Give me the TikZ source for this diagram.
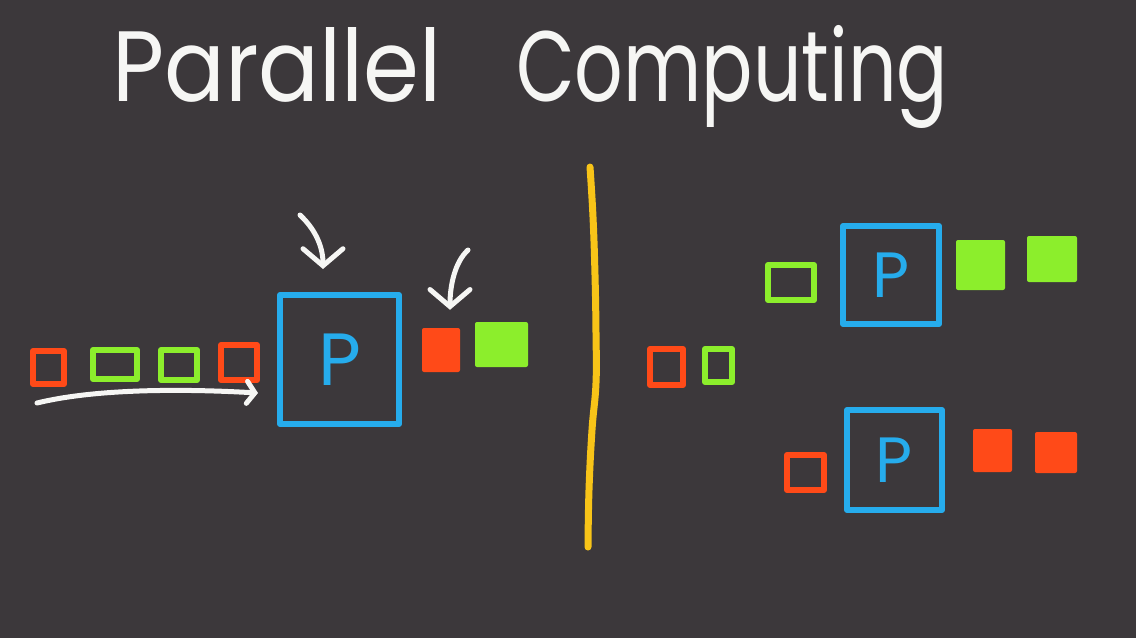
\documentclass[tikz,border=0pt]{standalone}
\usepackage{fontspec}
\usepackage{graphicx}
\setmainfont{Poppins}
\usetikzlibrary{arrows.meta}
\definecolor{bg}{RGB}{60,56,59}
\definecolor{cred}{RGB}{255,74,24}
\definecolor{cgreen}{RGB}{140,238,44}
\definecolor{cblue}{RGB}{38,172,236}
\definecolor{cyel}{RGB}{248,196,24}
\definecolor{chalk}{RGB}{246,246,244}
\begin{document}
\begin{tikzpicture}[x=1pt,y=-1pt,
  sq/.style={draw=#1, line width=6pt, inner sep=0pt, line join=round},
  fsq/.style={fill=#1, draw=none, rounded corners=2pt, inner sep=0pt},
  proc/.style={draw=cblue, line width=6pt, inner sep=0pt, text=cblue, line join=round},
  chalkarrow/.style={draw=chalk, line width=5pt, line cap=round, line join=round,
    -{Straight Barb[length=17pt,width=40pt,line cap=round]}},
  smallarrow/.style={draw=chalk, line width=5pt, line cap=round, line join=round,
    -{Straight Barb[length=8pt,width=22pt,line cap=round]}},
  title/.style={text=chalk, font=\fontsize{100}{100}\selectfont, inner sep=0pt, anchor=base west}
]
\useasboundingbox[fill=bg] (0,0) rectangle (1136,638);

% title
\node[title] (t1) at (112,101) {\scalebox{0.9}[1]{Parallel}};
\node[title] (t2) at (516,101) {\scalebox{0.76}[1]{Computing}};

% left: serial
\node[sq=cred,   minimum width=31pt, minimum height=33pt] (r1) at (48.5,367.5) {};
\node[sq=cgreen, minimum width=44pt, minimum height=29pt] (g1) at (115,364.5) {};
\node[sq=cgreen, minimum width=36pt, minimum height=30pt] (g2) at (179,365) {};
\node[sq=cred,   minimum width=36pt, minimum height=35pt] (r2) at (239,362.5) {};
\node[proc, minimum width=119pt, minimum height=129pt,
      font=\fontsize{74}{74}\selectfont] (pL) at (339.5,359.5) {P};
\node[fsq=cred,   minimum width=38pt, minimum height=44pt] (fr1) at (441,350) {};
\node[fsq=cgreen, minimum width=53pt, minimum height=45pt] (fg1) at (501.5,344.5) {};

\coordinate (a0) at (37,403);
\coordinate (a1) at (258,393);
\draw[smallarrow] (a0) .. controls (90,390) and (170,388) .. (a1);

\coordinate (b0) at (300,215);
\coordinate (b1) at ([yshift=23pt]pL.north -| 323,0);
\draw[chalkarrow] (b0) .. controls (318,232) and (323,250) .. (b1);

\coordinate (c0) at (468,250);
\coordinate (c1) at ([yshift=18pt]fr1.north -| 450,0);
\draw[chalkarrow] (c0) .. controls (455,262) and (450,285) .. (c1);

% divider
\coordinate (y0) at (590,167);
\coordinate (y1) at (588,547);
\draw[cyel, line width=7pt, line cap=round] plot[smooth, tension=0.7]
  coordinates {(y0) (593,217) (595,275) (596,333) (596,383) (592,430) (589,490) (y1)};

% right: parallel
\node[sq=cred,   minimum width=33pt, minimum height=36pt] (r3) at (666.5,367) {};
\node[sq=cgreen, minimum width=27pt, minimum height=33pt] (g4) at (718.5,365.5) {};

\node[sq=cgreen, minimum width=46pt, minimum height=35pt] (g3) at (791,282.5) {};
\node[proc, minimum width=96pt, minimum height=98pt,
      font=\fontsize{64}{64}\selectfont] (pT) at (891,275) {P};
\node[fsq=cgreen, minimum width=49pt, minimum height=50pt] (fg2) at (980.5,265) {};
\node[fsq=cgreen, minimum width=50pt, minimum height=46pt] (fg3) at (1052,259) {};

\node[sq=cred,   minimum width=37pt, minimum height=35pt] (r4) at (805.5,472.5) {};
\node[proc, minimum width=95pt, minimum height=100pt,
      font=\fontsize{64}{64}\selectfont] (pB) at (894.5,460) {P};
\node[fsq=cred, minimum width=39pt, minimum height=43pt] (fr2) at (992.5,450.5) {};
\node[fsq=cred, minimum width=42pt, minimum height=41pt] (fr3) at (1056,452.5) {};
\end{tikzpicture}
\end{document}
